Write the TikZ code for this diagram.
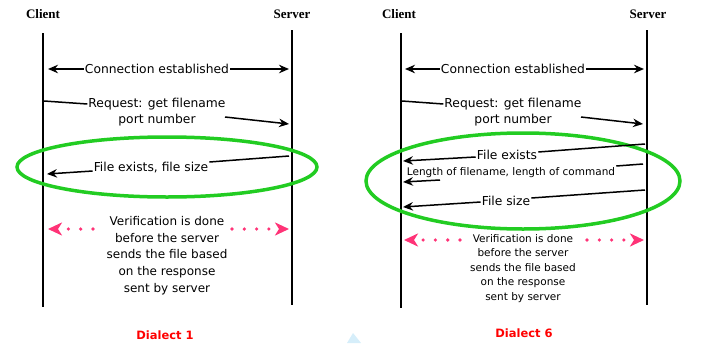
\documentclass[tikz,border=0pt]{standalone}
\usepackage{fontspec}
\setmainfont{DejaVu Sans}
\newfontfamily\headfont{Liberation Serif}
\usetikzlibrary{arrows.meta,calc}
\definecolor{ringgreen}{RGB}{34,204,34}
\definecolor{verifypink}{RGB}{255,51,119}
\definecolor{dialectred}{RGB}{255,0,0}
\definecolor{markblue}{RGB}{214,238,250}

\begin{document}
\begin{tikzpicture}[x=1pt,y=-1pt,
  lifeline/.style={line width=1.7pt},
  party/.style={font=\headfont\bfseries\fontsize{13}{13}\selectfont, inner sep=0pt},
  msg/.style={font=\fontsize{12.3}{12.3}\selectfont, inner sep=1pt},
  smallmsg/.style={font=\fontsize{10.5}{10.5}\selectfont, inner sep=1pt},
  note/.style={font=\fontsize{12}{16.7}\selectfont, align=center, inner sep=0pt},
  smallnote/.style={font=\fontsize{10.5}{14.5}\selectfont, align=center, inner sep=0pt},
  dialect/.style={font=\bfseries\fontsize{11.5}{11.5}\selectfont, text=dialectred},
  link/.style={line width=1.5pt},
  sendarrow/.style={link, -{Stealth[length=10pt,width=8.5pt]}},
  ring/.style={draw=ringgreen, line width=3.5pt},
  verify/.style={draw=verifypink, line width=3.6pt, line cap=round,
    dash pattern=on 0pt off 12.3pt,
    -{Stealth[length=14pt,width=13pt,inset=4pt]}},
]
\useasboundingbox (0,0) rectangle (704,343);

% ---------------- Dialect 1 ----------------
\node[party] (cl1) at (43,14) {Client};
\node[party] (sv1) at (292,14) {Server};
\coordinate (cl1top) at (43,33);  \coordinate (cl1bot) at (43,307);
\coordinate (sv1top) at (292,30); \coordinate (sv1bot) at (292,305);
\draw[lifeline] (cl1top) -- (cl1bot);
\draw[lifeline] (sv1top) -- (sv1bot);

% connection set-up
\node[msg] (ce1) at (157,69) {Connection established};
\draw[sendarrow] (ce1.west) -- (48,69);
\draw[sendarrow] (ce1.east) -- (289,69);

% request from the client
\node[msg] (rq1) at (157,104) {Request: get filename};
\node[msg] (rq1b) at (157,120) {port number};
\coordinate (rq1from) at (44,101);
\coordinate (rq1tail) at (225,117);
\coordinate (rq1head) at (289,124);
\draw[link] (rq1from) -- (rq1.west);
\draw[sendarrow] (rq1tail) -- (rq1head);

% reply from the server
\draw[ring] (167,167) ellipse [x radius=150pt, y radius=30pt];
\node[msg] (fe1) at (151,168) {File exists, file size};
\coordinate (fe1from) at (289,156);
\coordinate (fe1head) at (47,174);
\draw[link] (fe1from) -- ($(fe1.east)+(0,-6)$);
\draw[sendarrow] ($(fe1.west)+(0,3)$) -- (fe1head);

% verification
\node[note, anchor=north] (vf1) at (167,216)
  {Verification is done\\before the server\\sends the file based\\on the response\\sent by server};
\coordinate (vf1l) at (93,229);  \coordinate (vf1lend) at (48,229);
\coordinate (vf1r) at (232,229); \coordinate (vf1rend) at (289,229);
\draw[verify] (vf1l) -- (vf1lend);
\draw[verify] (vf1r) -- (vf1rend);

\node[dialect] (d1) at (165,335) {Dialect 1};

% ---------------- Dialect 6 ----------------
\node[party] (cl6) at (399,14) {Client};
\node[party] (sv6) at (648,14) {Server};
\coordinate (cl6top) at (401,33);  \coordinate (cl6bot) at (401,308);
\coordinate (sv6top) at (647,30);  \coordinate (sv6bot) at (647,305);
\draw[lifeline] (cl6top) -- (cl6bot);
\draw[lifeline] (sv6top) -- (sv6bot);

% connection set-up
\node[msg] (ce6) at (513,69) {Connection established};
\draw[sendarrow] (ce6.west) -- (405,69);
\draw[sendarrow] (ce6.east) -- (644,69);

% request from the client
\node[msg] (rq6) at (513,104) {Request: get filename};
\node[msg] (rq6b) at (513,120) {port number};
\coordinate (rq6from) at (402,101);
\coordinate (rq6tail) at (581,117);
\coordinate (rq6head) at (643,124);
\draw[link] (rq6from) -- (rq6.west);
\draw[sendarrow] (rq6tail) -- (rq6head);

% replies from the server
\draw[ring] (523,181) ellipse [x radius=157pt, y radius=48pt];

\node[msg] (fx6) at (507,155) {File exists};
\coordinate (fx6from) at (645,144);
\coordinate (fx6head) at (403,161);
\draw[link] (fx6from) -- ($(fx6.east)+(0,-3)$);
\draw[sendarrow] ($(fx6.west)+(0,2)$) -- (fx6head);

\node[smallmsg] (ln6) at (511,173) {Length of filename, length of command};
\coordinate (ln6from) at (643,164);
\coordinate (ln6tail) at (440,180);
\coordinate (ln6head) at (403,182);
\draw[link] (ln6from) -- ($(ln6.east)+(0,-7)$);
\draw[sendarrow] (ln6tail) -- (ln6head);

\node[msg] (fs6) at (506,201) {File size};
\coordinate (fs6from) at (645,190);
\coordinate (fs6head) at (403,207);
\draw[link] (fs6from) -- ($(fs6.east)+(0,-3)$);
\draw[sendarrow] ($(fs6.west)+(0,1)$) -- (fs6head);

% verification
\node[smallnote, anchor=north] (vf6) at (523,234)
  {Verification is done\\before the server\\sends the file based\\on the response\\sent by server};
\coordinate (vf6l) at (460,240);  \coordinate (vf6lend) at (404,240);
\coordinate (vf6r) at (587,240);  \coordinate (vf6rend) at (644,240);
\draw[verify] (vf6l) -- (vf6lend);
\draw[verify] (vf6r) -- (vf6rend);

\node[dialect] (d6) at (524,333) {Dialect 6};

% small mark at the bottom edge
\fill[markblue] (347,343) -- (353,333) -- (361,343) -- cycle;
\end{tikzpicture}
\end{document}
